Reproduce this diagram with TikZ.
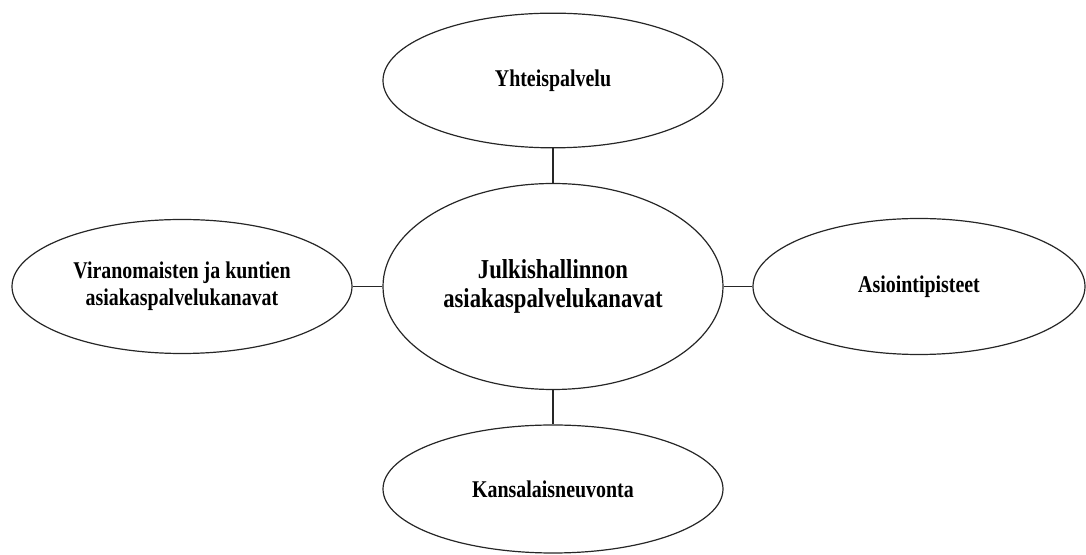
\documentclass[tikz,border=0pt]{standalone}
\usepackage{fontspec}
\setmainfont{Liberation Serif}[FakeStretch=0.83]
\usetikzlibrary{shapes.geometric}
\begin{document}
\begin{tikzpicture}[x=0.75pt,y=-0.75pt,
  bubble/.style={draw=black!85, line width=0.9pt, ellipse, inner sep=0pt, align=center,
    font=\fontsize{18}{20.5}\selectfont\bfseries},
  link/.style={draw=black!85, line width=0.9pt}]
\useasboundingbox (0,0) rectangle (1086,555);
\node[bubble, minimum width=255pt, minimum height=101pt] (top) at (553,80.5) {Yhteispalvelu};
\node[bubble, minimum width=255pt, minimum height=154.5pt, font=\fontsize{20.5}{21.5}\selectfont\bfseries] (mid) at (553,286.5) {Julkishallinnon\\asiakaspalvelukanavat};
\node[bubble, minimum width=255pt, minimum height=100.5pt] (left) at (182,286.5) {Viranomaisten ja kuntien\\asiakaspalvelukanavat};
\node[bubble, minimum width=249pt, minimum height=102pt] (right) at (919,286.5) {Asiointipisteet};
\node[bubble, minimum width=255pt, minimum height=96pt] (bot) at (553,489) {Kansalaisneuvonta};
\draw[link] (top.south) -- (mid.north);
\draw[link] (mid.south) -- (bot.north);
\draw[link] (left.east) -- (mid.west);
\draw[link] (mid.east) -- (right.west);
\end{tikzpicture}
\end{document}
